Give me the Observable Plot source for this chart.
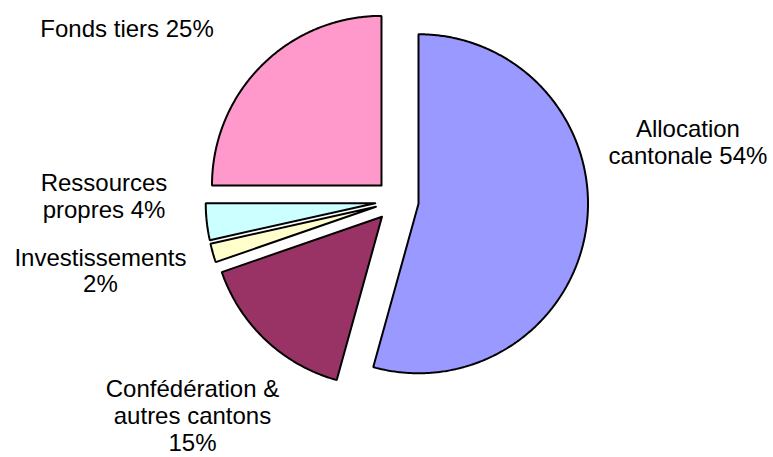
<!DOCTYPE html>
<html><head><meta charset="utf-8">
<script src="https://cdn.jsdelivr.net/npm/d3@7"></script>
<script src="https://cdn.jsdelivr.net/npm/@observablehq/plot@0.6"></script>
<style>html,body{margin:0;padding:0;background:#fff}svg{display:block}</style>
</head><body><div id="chart"></div>
<script>
// ---- data ----
const categories = ["Allocation cantonale", "Confédération & autres cantons", "Investissements", "Ressources propres", "Fonds tiers"];
const values = [54.3, 15.4, 1.8, 3.5, 25.0];
const labelTexts = ["Allocation\ncantonale 54%", "Confédération &\nautres cantons\n15%", "Investissements\n2%", "Ressources\npropres 4%", "Fonds tiers 25%"];
const colors = ["#9999FF", "#993366", "#FFFFCC", "#CCFFFF", "#FF99CC"];

// ---- layout ----
const W = 773, H = 457;
const cx = 396.4, cy = 200.3, R = 169.5;   // pie centre and radius in px
const explode = 21.8 / R;                   // explosion distance in radius units
// label block centres in radius units (x right, y up) relative to pie centre
const labelPos = [[1.717, 0.347], [-1.206, -1.268], [-1.749, -0.411], [-1.728, 0.028], [-1.592, 1.017]];

const total = d3.sum(values);
let acc = 0;
const slices = values.map((v, i) => {
  const a0 = acc / total * 2 * Math.PI;
  acc += v;
  const a1 = acc / total * 2 * Math.PI;
  const mid = (a0 + a1) / 2;
  const ox = explode * Math.sin(mid), oy = explode * Math.cos(mid);
  const n = Math.max(2, Math.ceil((a1 - a0) / (Math.PI / 360)));
  const pts = [{x: ox, y: oy}];
  for (let k = 0; k <= n; k++) {
    const a = a0 + (a1 - a0) * k / n;
    pts.push({x: ox + Math.sin(a), y: oy + Math.cos(a)});
  }
  pts.push({x: ox, y: oy});
  return {name: categories[i], color: colors[i], pts};
});

const labels = labelTexts.map((t, i) => ({text: t, x: labelPos[i][0], y: labelPos[i][1]}));

const chart = Plot.plot({
  width: W, height: H,
  margin: 0,
  x: {domain: [-cx / R, (W - cx) / R], axis: null},
  y: {domain: [-(H - cy) / R, cy / R], axis: null},
  style: {background: "#fff", fontFamily: "'Liberation Sans', Arial, sans-serif"},
  marks: [
    ...slices.map(s => Plot.line(s.pts, {x: "x", y: "y", fill: s.color, stroke: "#000", strokeWidth: 2, strokeLinejoin: "miter", curve: "linear"})),
    Plot.text(labels, {x: "x", y: "y", text: "text", fontSize: 24, lineHeight: 1.12, textAnchor: "middle", lineAnchor: "middle", fill: "#000"})
  ]
});
document.getElementById("chart").appendChild(chart);
</script>
</body></html>
